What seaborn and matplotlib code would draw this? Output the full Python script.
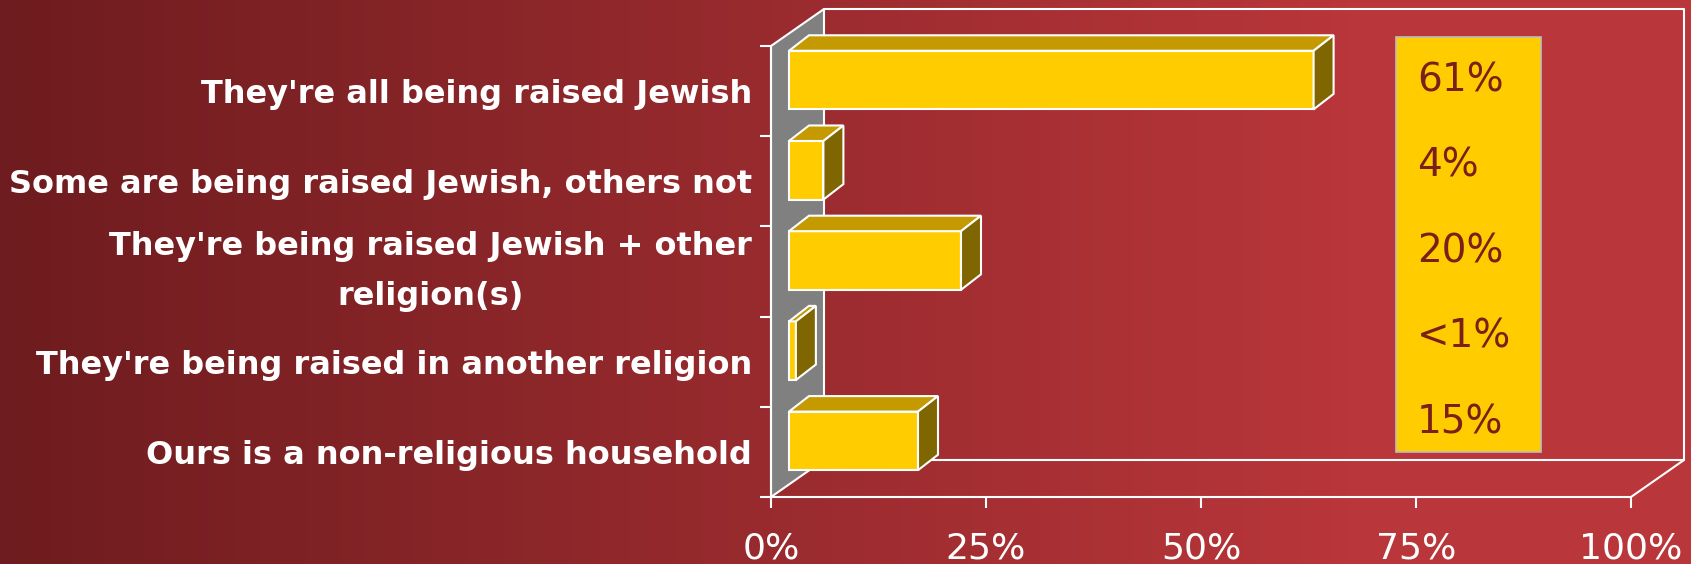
import numpy as np
import pandas as pd
import matplotlib
matplotlib.use("Agg")
import matplotlib.pyplot as plt
from matplotlib.patches import Polygon, Rectangle
from matplotlib.lines import Line2D
import seaborn as sns

categories = [
    "They're all being raised Jewish",
    "Some are being raised Jewish, others not",
    "They're being raised Jewish + other\nreligion(s)",
    "They're being raised in another religion",
    "Ours is a non-religious household",
]
shares = [61, 4, 20, 0.8, 15]
share_labels = ["61%", "4%", "20%", "<1%", "15%"]
x_ticks = [0, 25, 50, 75, 100]
x_tick_labels = ["0%", "25%", "50%", "75%", "100%"]

W, H, DPI = 1691, 564, 100
FRONT, TOP, SIDE, WALL = "#FFCC00", "#C49A00", "#806600", "#808080"
TXT_DARK = "#7A1F1A"
LW = 1.5

sns.set_theme(style="white")
plt.rcParams["font.family"] = ["DejaVu Sans"]

fig = plt.figure(figsize=(W / DPI, H / DPI), dpi=DPI)

# background: dark red -> brighter red, flat on the right
bg = fig.add_axes([0, 0, 1, 1], zorder=-10)
t = np.clip(np.arange(W) / 1350, 0, 1)
c_left = np.array([110, 28, 31]) / 255
c_right = np.array([185, 54, 58]) / 255
grad = c_left[None, :] + t[:, None] * (c_right - c_left)[None, :]
bg.imshow(grad[None, :, :], aspect="auto", extent=[0, 1, 0, 1])
bg.set_axis_off()

# front plane of the 3d box, in pixels from top-left
px0, px1, py0, py1 = 771, 1631, 46, 497
ax = fig.add_axes([px0 / W, 1 - py1 / H, (px1 - px0) / W, (py1 - py0) / H])
ax.patch.set_alpha(0)

df = pd.DataFrame({"category": categories, "share": shares})
sns.barplot(data=df, x="share", y="category", orient="h", width=0.65,
            color=FRONT, saturation=1, edgecolor="white", linewidth=LW,
            ax=ax, zorder=4)
ax.set_xlim(0, 100)
ax.set_ylim(4.5, -0.5)

sx = (px1 - px0) / 100.0
sy = (py1 - py0) / 5.0


def off(dx, dup):
    # pixel offset -> data offset (y axis is inverted)
    return dx / sx, -dup / sy


# side wall (gray) and back wall outline
wx, wy = off(53, 37)
ax.add_patch(Polygon([(0, -0.5), (wx, -0.5 + wy), (wx, 4.5 + wy), (0, 4.5)],
                     closed=True, facecolor=WALL, edgecolor="white", lw=LW,
                     zorder=1, clip_on=False))
ax.add_line(Line2D([wx, 100 + wx, 100 + wx, wx],
                   [-0.5 + wy, -0.5 + wy, 4.5 + wy, 4.5 + wy],
                   color="white", lw=LW, zorder=2, clip_on=False))
ax.add_line(Line2D([100, 100 + wx], [4.5, 4.5 + wy],
                   color="white", lw=LW, zorder=2, clip_on=False))

# 3d bars: move the front faces back a bit, then add top and side faces
fx, fy = off(18, 11)
dx, dy = off(20, 15.5)
for p in list(ax.patches):
    if not isinstance(p, Rectangle) or p.get_width() <= 0 or p.get_width() > 100:
        continue
    p.set_x(p.get_x() + fx)
    p.set_y(p.get_y() + fy)
    p.set_clip_on(False)
    xl, xr = p.get_x(), p.get_x() + p.get_width()
    yt, yb = p.get_y(), p.get_y() + p.get_height()
    ax.add_patch(Polygon([(xl, yt), (xl + dx, yt + dy), (xr + dx, yt + dy), (xr, yt)],
                         closed=True, facecolor=TOP, edgecolor="white", lw=LW,
                         zorder=4, clip_on=False))
    ax.add_patch(Polygon([(xr, yt), (xr + dx, yt + dy), (xr + dx, yb + dy), (xr, yb)],
                         closed=True, facecolor=SIDE, edgecolor="white", lw=LW,
                         zorder=4, clip_on=False))

for side in ["top", "right"]:
    ax.spines[side].set_visible(False)
for side in ["left", "bottom"]:
    ax.spines[side].set_color("white")
    ax.spines[side].set_linewidth(LW)

ax.set_xlabel("")
ax.set_ylabel("")
ax.set_xticks(x_ticks, x_tick_labels)
ax.tick_params(axis="x", bottom=True, length=8, width=LW, color="white",
               labelcolor="white", labelsize=26, pad=17)
ax.set_yticks(range(len(categories)), categories)
ax.tick_params(axis="y", which="major", left=True, length=0, pad=13.5,
               labelcolor="white", labelsize=23)
ax.set_yticks(np.arange(-0.5, len(categories), 1), minor=True)
ax.tick_params(axis="y", which="minor", left=True, length=8, width=LW, color="white")
for lbl in ax.get_yticklabels():
    lbl.set_fontweight("bold")
    if "\n" in lbl.get_text():
        lbl.set_multialignment("center")
        lbl.set_linespacing(1.75)
        lbl.set_verticalalignment("center")

# yellow value box on the right
bx0, bx1, by0, by1 = 1396, 1541, 37, 452
fig.add_artist(Rectangle((bx0 / W, 1 - by1 / H), (bx1 - bx0) / W, (by1 - by0) / H,
                         transform=fig.transFigure, facecolor=FRONT,
                         edgecolor="#BDBDBD", lw=1.2, zorder=5))
for lab, yb in zip(share_labels, np.linspace(91, 433, len(share_labels))):
    fig.text(1417 / W, 1 - yb / H, lab, ha="left", va="baseline",
             color=TXT_DARK, fontsize=28, zorder=6)

fig.savefig("out.png", dpi=DPI)
